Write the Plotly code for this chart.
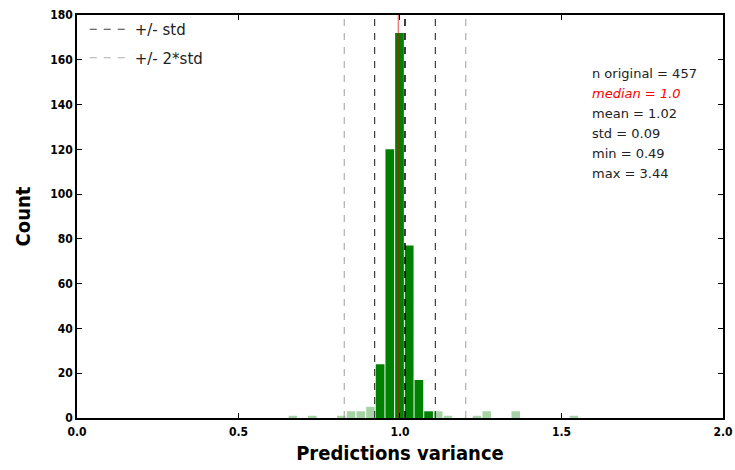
import plotly.graph_objects as go

# ---- data ----
dark_centers = [0.9385, 0.9685, 0.9985, 1.0285, 1.0585, 1.0885]
dark_counts = [24, 120, 172, 77, 17, 3]
light_centers = [0.6685, 0.7285, 0.8185, 0.8485, 0.8785, 0.9085,
                 1.1185, 1.1485, 1.2385, 1.2685, 1.3585, 1.5385]
light_counts = [1, 1, 1, 3, 3, 5, 3, 1, 1, 3, 3, 1]
bin_width = 0.03
mean_val = 1.0155
std_val = 0.094
median_val = 0.995
stats_lines = ["n original = 457", "median = 1.0", "mean = 1.02",
               "std = 0.09", "min = 0.49", "max = 3.44"]
x_ticks = [0.0, 0.5, 1.0, 1.5, 2.0]
x_ticklabels = ["0.0", "0.5", "1.0", "1.5", "2.0"]
y_ticks = list(range(0, 181, 20))

fig = go.Figure()
fig.add_trace(go.Bar(x=light_centers, y=light_counts, width=bin_width * 0.88,
                     marker=dict(color="rgba(0,128,0,0.35)", line=dict(width=0)),
                     showlegend=False))
fig.add_trace(go.Bar(x=dark_centers, y=dark_counts, width=bin_width * 0.9,
                     marker=dict(color="#008000", line=dict(width=0)),
                     showlegend=False))

ymax = 180
std_col = "rgba(40,40,40,0.9)"
std2_col = "rgba(120,120,120,0.6)"
for i, s in enumerate([-1, 1]):
    fig.add_trace(go.Scatter(x=[mean_val + s * std_val] * 2, y=[0, ymax], mode="lines",
                             line=dict(color=std_col, width=1.2, dash="7px,7px"),
                             name="+/- std", legendgroup="a", showlegend=(i == 0)))
for i, s in enumerate([-2, 2]):
    fig.add_trace(go.Scatter(x=[mean_val + s * std_val] * 2, y=[0, ymax], mode="lines",
                             line=dict(color=std2_col, width=1.2, dash="7px,7px"),
                             name="+/- 2*std", legendgroup="b", showlegend=(i == 0)))
fig.add_trace(go.Scatter(x=[mean_val] * 2, y=[0, ymax], mode="lines",
                         line=dict(color="black", width=1.5, dash="7px,7px"),
                         showlegend=False))
fig.add_trace(go.Scatter(x=[median_val] * 2, y=[0, ymax], mode="lines",
                         line=dict(color="rgba(230,0,0,0.5)", width=1.5),
                         showlegend=False))

# stats text
y0 = 0.855
for k, t in enumerate(stats_lines):
    is_med = t.startswith("median")
    fig.add_annotation(xref="paper", yref="paper", x=0.794, y=y0 - k * 0.0495,
                       text=("<i>%s</i>" % t) if is_med else t, showarrow=False,
                       xanchor="left", yanchor="middle",
                       font=dict(size=13, color="red" if is_med else "#222",
                                 family="DejaVu Sans"))

axis_common = dict(showline=True, linecolor="black", linewidth=1.5, mirror="ticks",
                   ticks="inside", ticklen=5, tickcolor="black", showgrid=False,
                   zeroline=False, automargin=False, ticklabeloverflow="allow")
title_font = dict(size=20, family="DejaVu Sans Condensed, DejaVu Sans", weight="bold")
fig.update_layout(
    width=735, height=470,
    margin=dict(l=77, r=12, t=15, b=52),
    plot_bgcolor="white", paper_bgcolor="white",
    barmode="overlay",
    font=dict(family="DejaVu Sans", color="black"),
    xaxis=dict(range=[0, 2.0001], tickvals=x_ticks, ticktext=x_ticklabels,
               tickfont=dict(size=12, family="DejaVu Sans Condensed, DejaVu Sans", weight="bold"),
               ticklabelstandoff=2,
               title=dict(text="Predictions variance", standoff=8, font=title_font),
               **axis_common),
    yaxis=dict(range=[0, 180], tickvals=y_ticks,
               tickfont=dict(size=12, family="DejaVu Sans Condensed, DejaVu Sans", weight="bold"),
               title=dict(text="Count", standoff=14, font=title_font),
               **axis_common),
    legend=dict(x=0.012, y=1.005, xanchor="left", yanchor="top", bgcolor="rgba(0,0,0,0)",
                font=dict(size=15, family="DejaVu Sans", color="#222"),
                tracegroupgap=6, itemwidth=40),
)

fig.write_html("out.html")
